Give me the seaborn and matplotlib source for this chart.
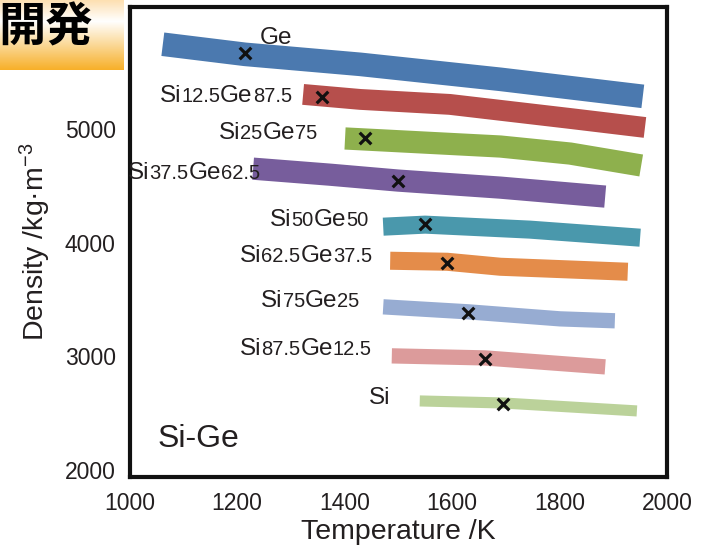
import numpy as np
import pandas as pd
import matplotlib
matplotlib.use("Agg")
import matplotlib.pyplot as plt
import matplotlib.transforms as mtransforms
from matplotlib.colors import LinearSegmentedColormap
import seaborn as sns

# ---------------- data ----------------
alloys = ["Ge", "Si12.5Ge87.5", "Si25Ge75", "Si37.5Ge62.5", "Si50Ge50",
          "Si62.5Ge37.5", "Si75Ge25", "Si87.5Ge12.5", "Si"]

temp_Ge = [1062, 1215, 1429, 1690, 1955]
dens_Ge = [5747, 5658, 5570, 5438, 5288]
temp_S125 = [1323, 1429, 1596, 1820, 1959]
dens_S125 = [5305, 5261, 5217, 5093, 5014]
temp_S25 = [1401, 1438, 1690, 1820, 1952]
dens_S25 = [4917, 4908, 4846, 4784, 4679]
temp_S375 = [1230, 1373, 1500, 1690, 1885]
dens_S375 = [4651, 4598, 4546, 4484, 4405]
temp_S50 = [1472, 1550, 1745, 1950]
dens_S50 = [4140, 4158, 4114, 4043]
temp_S625 = [1485, 1591, 1690, 1927]
dens_S625 = [3840, 3831, 3787, 3743]
temp_S75 = [1472, 1630, 1801, 1903]
dens_S75 = [3434, 3390, 3328, 3311]
temp_S875 = [1488, 1661, 1885]
dens_S875 = [3002, 2984, 2905]
temp_Si = [1540, 1695, 1944]
dens_Si = [2605, 2587, 2517]

# melting points (x markers)
melt_T = [1215, 1358, 1438, 1500, 1550, 1591, 1630, 1661, 1695]
melt_D = [5667, 5279, 4917, 4546, 4167, 3822, 3381, 2975, 2578]

x_ticks = [1000, 1200, 1400, 1600, 1800, 2000]
y_ticks = [2000, 3000, 4000, 5000]

# label pieces: (text, is_number)
label_parts = {
    "Ge": [("Ge", False)],
    "Si12.5Ge87.5": [("Si", False), ("12.5", True), ("Ge", False), ("87.5", True)],
    "Si25Ge75": [("Si", False), ("25", True), ("Ge", False), ("75", True)],
    "Si37.5Ge62.5": [("Si", False), ("37.5", True), ("Ge", False), ("62.5", True)],
    "Si50Ge50": [("Si", False), ("50", True), ("Ge", False), ("50", True)],
    "Si62.5Ge37.5": [("Si", False), ("62.5", True), ("Ge", False), ("37.5", True)],
    "Si75Ge25": [("Si", False), ("75", True), ("Ge", False), ("25", True)],
    "Si87.5Ge12.5": [("Si", False), ("87.5", True), ("Ge", False), ("12.5", True)],
    "Si": [("Si", False)],
}

# ---------------- styles / layout ----------------
temps = [temp_Ge, temp_S125, temp_S25, temp_S375, temp_S50, temp_S625, temp_S75, temp_S875, temp_Si]
denss = [dens_Ge, dens_S125, dens_S25, dens_S375, dens_S50, dens_S625, dens_S75, dens_S875, dens_Si]
colors = ["#3b6ea8", "#b0403d", "#84aa3e", "#6b4f94", "#3a8fa5",
          "#e2823a", "#8ea5cf", "#d99393", "#b6cf92"]
widths = [17, 15, 16, 16, 13, 13, 11, 11, 8]
# label anchor: right edge x (data), vertical centre (data)
label_pos = [(1302, 5826), (1302, 5314), (1349, 4988), (1243, 4635), (1444, 4220),
             (1451, 3902), (1428, 3505), (1451, 3081), (1485, 2649)]

sns.set_theme(style="white")
plt.rcParams["font.family"] = ["Liberation Sans", "DejaVu Sans"]
plt.rcParams["mathtext.fontset"] = "custom"
plt.rcParams["mathtext.rm"] = "Liberation Sans"
text_color = "#231f20"

W, H = 722, 547
fig = plt.figure(figsize=(W / 100, H / 100), dpi=100)
ax = fig.add_axes([129.5 / W, 1 - 477 / H, (667 - 129.5) / W, (477 - 7) / H])

for name, t, d, c, lw in zip(alloys, temps, denss, colors, widths):
    df = pd.DataFrame({"T": t, "D": d})
    sns.lineplot(data=df, x="T", y="D", ax=ax, color=c, lw=lw, sort=False,
                 solid_capstyle="butt", solid_joinstyle="round", alpha=0.92)

mdf = pd.DataFrame({"T": melt_T, "D": melt_D})
sns.scatterplot(data=mdf, x="T", y="D", ax=ax, marker="x", color="#111111",
                s=70, linewidth=2.3, zorder=5)

ax.set_xlim(1000, 2000)
ax.set_ylim(1935, 6075)
ax.set_xticks(x_ticks)
ax.set_yticks(y_ticks)
ax.tick_params(length=0, labelsize=16.5, colors=text_color)
ax.tick_params(axis="x", pad=11)
ax.tick_params(axis="y", pad=10)
for s in ax.spines.values():
    s.set_linewidth(3)
    s.set_color("#111111")
ax.set_xlabel("Temperature /K", fontsize=20.5, color=text_color, labelpad=3)
ax.set_ylabel("Density /kg·m$\\mathregular{^{-3}}$", fontsize=20.5, color=text_color, labelpad=8)
ax.grid(False)

# multi-size labels
renderer = fig.canvas.get_renderer()
big, small = 17.5, 14.5
dpx = (6075 - 1935) / (477 - 7)  # data units per pixel
for name, (xr, yc) in zip(alloys, label_pos):
    parts = label_parts[name]
    ws = []
    for s, isnum in parts:
        tt = ax.text(0, 0, s, fontsize=small if isnum else big)
        ws.append(tt.get_window_extent(renderer).width)
        tt.remove()
    off = -sum(ws)
    yb = yc - 8.5 * dpx
    for (s, isnum), w in zip(parts, ws):
        tr = mtransforms.offset_copy(ax.transData, fig=fig, x=off, y=0, units="dots")
        ax.text(xr, yb, s, transform=tr, fontsize=small if isnum else big,
                ha="left", va="baseline", color=text_color)
        off += w

ax.text(1052, 2000 + (468.5 - 438) * 8.826, "Si-Ge", fontsize=23, color=text_color,
        ha="left", va="center")

# top-left heading box with gradient
bax = fig.add_axes([0, 1 - 70 / H, 124 / W, 70 / H])
cmap = LinearSegmentedColormap.from_list("hdr", [(0, "#fde0b2"), (0.3, "#ffffff"), (1.0, "#f7b02a")])
grad = np.linspace(0, 1, 100).reshape(-1, 1)
bax.imshow(grad, aspect="auto", cmap=cmap, extent=[0, 1, 1, 0])
bax.set_axis_off()
fig.text(93 / W, 1 - 27 / H, "開発", fontsize=34, fontweight="bold",
         family=["Noto Sans CJK JP", "DejaVu Sans"], ha="right", va="center", color="#000000")

fig.savefig("out.png", dpi=100)
